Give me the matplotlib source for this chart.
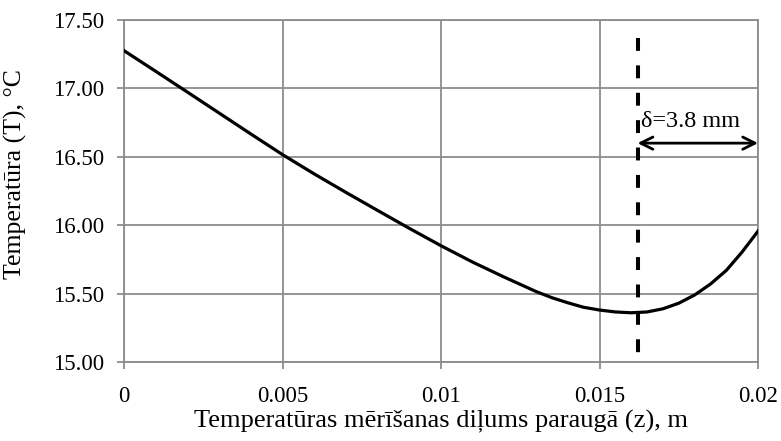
import matplotlib.pyplot as plt

# depth z (m) and temperature T (C)
z = [0, 0.001, 0.002, 0.003, 0.004, 0.005, 0.006, 0.007, 0.008, 0.009,
     0.010, 0.011, 0.012, 0.013, 0.0135, 0.014, 0.0145, 0.015, 0.0155,
     0.016, 0.0165, 0.017, 0.0175, 0.018, 0.0185, 0.019, 0.0195, 0.020]
T = [17.276, 17.125, 16.973, 16.82, 16.667, 16.516, 16.375, 16.24, 16.108, 15.977,
     15.85, 15.73, 15.62, 15.515, 15.47, 15.433, 15.40, 15.38, 15.366,
     15.36, 15.366, 15.389, 15.43, 15.49, 15.57, 15.67, 15.805, 15.957]

delta_z = 0.0162
delta_label = "δ=3.8 mm"
xticks = [0, 0.005, 0.01, 0.015, 0.02]
xtick_labels = ["0", "0.005", "0.01", "0.015", "0.02"]
yticks = [15.0, 15.5, 16.0, 16.5, 17.0, 17.5]

plt.rcParams['font.family'] = ['Liberation Serif', 'DejaVu Serif']

fig = plt.figure(figsize=(7.81, 4.41), dpi=100)
ax = fig.add_axes([0.1588, 0.1791, 0.8118, 0.7755])

grid_c = "#8c8c8c"
ax.plot(z, T, color="k", lw=2.3, solid_joinstyle="round", zorder=3)
# dashed marker line, drawn top-down so the dash pattern starts at the top
ax.plot([delta_z, delta_z], [17.37, 15.0], color="k", lw=2.9,
        linestyle=(0, (3.2, 3.6)), zorder=4)
ax.annotate("", xy=(0.02, 16.60), xytext=(delta_z, 16.60),
            arrowprops=dict(arrowstyle="<->", color="k", lw=2.0,
                            mutation_scale=22, shrinkA=0, shrinkB=0),
            zorder=5)
ax.text(delta_z + 0.0001, 16.72, delta_label, fontsize=17.5,
        va="baseline", ha="left")

ax.set_xlim(0, 0.02)
ax.set_ylim(15.0, 17.5)
ax.set_xticks(xticks)
ax.set_xticklabels(xtick_labels)
ax.set_yticks(yticks)
ax.set_yticklabels(["%.2f" % v for v in yticks])
ax.grid(True, color=grid_c, lw=1.3)
ax.set_axisbelow(True)
for s in ax.spines.values():
    s.set_color(grid_c)
    s.set_linewidth(1.3)
ax.tick_params(axis="both", colors=grid_c, labelcolor="k", labelsize=16.5,
               length=5, width=1.3)
ax.tick_params(axis="x", pad=12)
ax.tick_params(axis="y", pad=9)

ax.set_xlabel("Temperatūras mērīšanas diļums paraugā (z), m", fontsize=19)
ax.xaxis.set_label_coords(0.5, -0.14)
ax.set_ylabel("Temperatūra (T), °C", fontsize=18.5)
ax.yaxis.set_label_coords(-0.153, 0.55)

fig.savefig("out.png", dpi=100)
